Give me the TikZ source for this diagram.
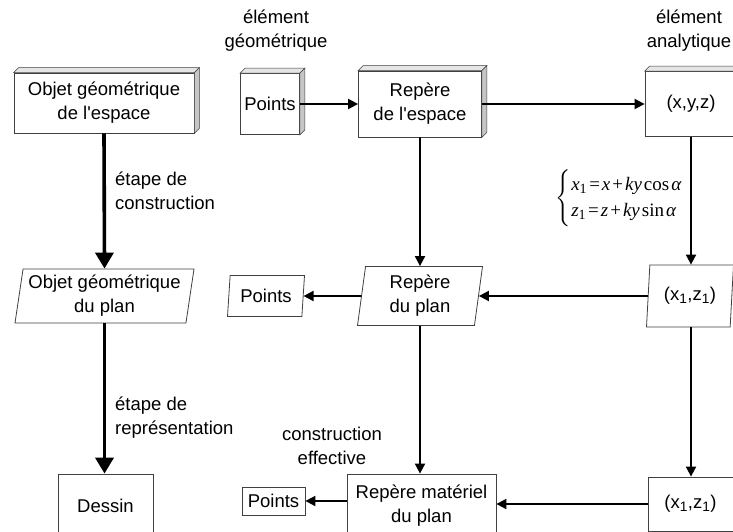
\documentclass[tikz,border=0pt]{standalone}
\usepackage{mathptmx}
\usepackage[no-math]{fontspec}
\setmainfont{Liberation Sans}[Ligatures=TeXOff]
\newfontfamily\eqfont{Liberation Serif}
\usetikzlibrary{shapes.geometric,arrows.meta}

\def\dep{5}
\newcommand{\ev}[1]{\textit{#1}}
\newcommand{\es}{\hspace{2pt}}

\begin{document}
\begin{tikzpicture}[x=1pt, y=-1pt,
                    >={Triangle[length=10pt,width=10pt]}, line cap=butt,
                    every node/.style={font=\fontsize{18.5}{24}\selectfont, align=center, inner sep=0pt},
                    frame/.style={draw=black!75, line width=0.8pt, fill=white},
                    cube/.style={frame, rectangle},
                    flat/.style={frame, rectangle},
                    para/.style={frame, trapezium, trapezium left angle=79, trapezium right angle=101,
                                 trapezium stretches body},
                    arr/.style={->, line width=1.8pt},
                    bigarr/.style={-{Triangle[length=16pt,width=18pt]}, line width=3.6pt},
                    lbl/.style={align=left}
                   ]
\useasboundingbox (0,0) rectangle (733,532);

% top row
\node [cube, minimum width=180, minimum height=60] (objE) at (104,103) {Objet g\'eom\'etrique\\de l'espace};
\node [cube, minimum width=59, minimum height=61] (ptsE) at (270,104) {Points};
\node [cube, minimum width=123, minimum height=66] (repE) at (420,104) {Rep\`ere\\de l'espace};
\node [cube, minimum width=92, minimum height=65] (xyz) at (691,104) {(x,y,z)};
\foreach \b in {objE,ptsE,repE,xyz}{
  \filldraw [fill=gray!20, draw=black!75, line width=0.6pt] (\b.north west) -- ++(\dep,-\dep)
      -- ([shift={(\dep,-\dep)}]\b.north east) -- (\b.north east) -- cycle;
  \filldraw [fill=gray!45, draw=black!75, line width=0.6pt] (\b.north east) -- ++(\dep,-\dep)
      -- ([shift={(\dep,-\dep)}]\b.south east) -- (\b.south east) -- cycle;
}

% middle row
\node [para, minimum width=179, minimum height=54] (objP) at (104.5,296) {Objet g\'eom\'etrique\\du plan};
\node [para, minimum width=77, minimum height=41] (ptsP) at (266,296) {Points};
\node [para, minimum width=125, minimum height=59] (repP) at (420,296) {Rep\`ere\\du plan};
\node [para, minimum width=87, minimum height=62] (xz) at (690,296) {(x\textsubscript{1},z\textsubscript{1})};

% bottom row
\node [flat, minimum width=95, minimum height=64] (dessin) at (105.5,506) {Dessin};
\node [flat, minimum width=63, minimum height=28] (ptsM) at (273.5,501) {Points};
\node [flat, minimum width=149, minimum height=64] (repM) at (421.5,506) {Rep\`ere mat\'eriel\\du plan};
\node [flat, minimum width=85, minimum height=54] (xzM) at (690.5,504) {(x\textsubscript{1},z\textsubscript{1})};

% labels
\node (geo) at (276,31) {\'el\'ement\\g\'eom\'etrique};
\node (ana) at (689,31) {\'el\'ement\\analytique};
\node [lbl, anchor=west] (cons) at (115,191) {\'etape de\\construction};
\node [lbl, anchor=west] (repr) at (115,418) {\'etape de\\repr\'esentation};
\node (eff) at (332,446) {construction\\effective};
\node [anchor=east, font=\fontsize{19}{26}\eqfont] (eq) at (683,198) {%
  $\left\{\begin{tabular}{@{}l@{}}
        \ev{x}\textsubscript{1}\es=\es\ev{x}\es+\es\ev{ky}\es cos\es\ev{α}\\
        \ev{z}\textsubscript{1}\es=\es\ev{z}\es+\es\ev{ky}\es sin\es\ev{α}
      \end{tabular}\right.$};

% connectors
\draw [arr] (ptsE.east) -- (ptsE.east -| repE.west);
\draw [arr] (repE.east) -- (repE.east -| xyz.west);
\draw [arr] (xyz.south) -- (xyz.south |- xz.north);
\draw [arr] (repE.south) -- (repP.north);
\draw [arr] (xz.west) -- (repP.east);
\draw [arr] (repP.west) -- (ptsP.east);
\draw [arr] (repP.south) -- (repP.south |- repM.north);
\draw [arr] (xz.south -| xyz.south) -- (xyz.south |- xzM.north);
\draw [arr] (xzM.west) -- (xzM.west -| repM.east);
\draw [arr] (ptsM.east -| repM.west) -- (ptsM.east);
\draw [bigarr] (objE.south) -- (objP.north);
\draw [bigarr] (objP.south) -- (objP.south |- dessin.north);
\end{tikzpicture}
\end{document}
